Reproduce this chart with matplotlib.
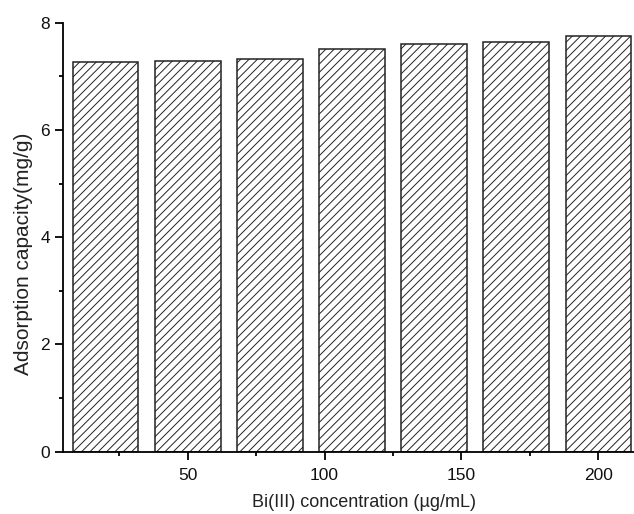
import matplotlib
matplotlib.use("Agg")
import matplotlib.pyplot as plt
from matplotlib.ticker import MultipleLocator

# Bi(III) concentration vs adsorption capacity
concentration = [20, 50, 80, 110, 140, 170, 200]
capacity = [7.26, 7.29, 7.32, 7.51, 7.60, 7.64, 7.75]

plt.rcParams["font.family"] = ["Liberation Sans", "DejaVu Sans"]
plt.rcParams["hatch.linewidth"] = 0.7
plt.rcParams["hatch.color"] = "#222222"

fig = plt.figure(figsize=(6.34, 5.14), dpi=100)
ax = fig.add_axes([0.0999, 0.1212, 0.9001, 0.8346])

ax.bar(concentration, capacity, width=24, color="white",
       edgecolor="#222222", linewidth=1.1, hatch="////")

ax.set_xlim(4.6, 213)
ax.set_ylim(0, 8)
ax.xaxis.set_major_locator(MultipleLocator(50))
ax.xaxis.set_minor_locator(MultipleLocator(25))
ax.yaxis.set_major_locator(MultipleLocator(2))
ax.yaxis.set_minor_locator(MultipleLocator(1))

ax.spines["top"].set_visible(False)
ax.spines["right"].set_visible(False)
for s in ("left", "bottom"):
    ax.spines[s].set_linewidth(1.3)

ax.tick_params(which="major", direction="out", length=5.5, width=1.3,
               labelsize=12.5, pad=4, labelcolor="#111111")
ax.tick_params(axis="x", which="major", pad=6)
ax.tick_params(which="minor", direction="out", length=3, width=1.3)

ax.set_xlabel("Bi(III) concentration (µg/mL)", fontsize=13, color="#222222")
ax.set_ylabel("Adsorption capacity(mg/g)", fontsize=15, color="#222222")
# the original frame is cropped on the right, so labels sit off-centre
ax.xaxis.set_label_coords(0.527, -0.098)
ax.yaxis.set_label_coords(-0.053, 0.461)

fig.savefig("out.png", dpi=100)
